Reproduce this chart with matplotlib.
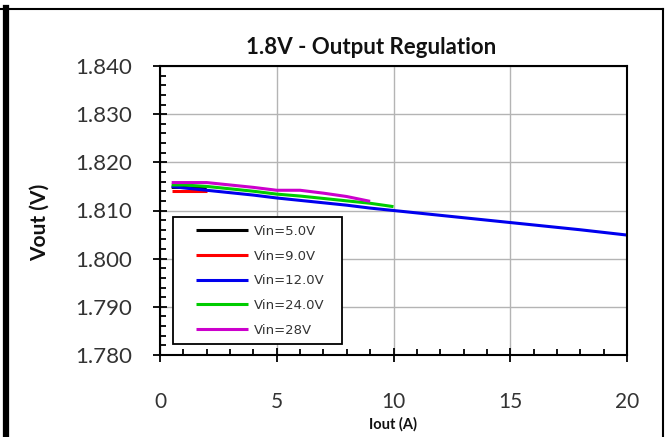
import matplotlib
matplotlib.use("Agg")
import numpy as np
import matplotlib.pyplot as plt
from matplotlib.lines import Line2D
from matplotlib.legend_handler import HandlerLine2D
from matplotlib.ticker import MultipleLocator, FormatStrFormatter

# ---- data ----
iout_5v = [0.5, 1, 2]
vout_5v = [1.8148, 1.8148, 1.8145]

iout_9v = [0.5, 1, 2]
vout_9v = [1.8141, 1.8141, 1.8141]

iout_12v = [0.5, 1, 2, 3, 4, 5, 6, 7, 8, 9, 10, 12, 14, 16, 18, 20]
vout_12v = [1.8150, 1.8147, 1.8142, 1.8137, 1.8132, 1.8126, 1.8121, 1.8116,
            1.8111, 1.8105, 1.8100, 1.8090, 1.8080, 1.8070, 1.8060, 1.8049]

iout_24v = [0.5, 1, 2, 3, 4, 5, 6, 7, 8, 9, 10]
vout_24v = [1.8153, 1.8153, 1.8150, 1.8145, 1.8140, 1.8134, 1.8130, 1.8125,
            1.8120, 1.8115, 1.8108]

iout_28v = [0.5, 1, 2, 3, 4, 5, 6, 7, 8, 9]
vout_28v = [1.8158, 1.8158, 1.8158, 1.8153, 1.8148, 1.8142, 1.8142, 1.8136,
            1.8129, 1.8119]

series = [
    (iout_5v, vout_5v, "#000000", "Vin=5.0V"),
    (iout_9v, vout_9v, "#ff0000", "Vin=9.0V"),
    (iout_12v, vout_12v, "#0000ee", "Vin=12.0V"),
    (iout_24v, vout_24v, "#00cc00", "Vin=24.0V"),
    (iout_28v, vout_28v, "#cc00cc", "Vin=28V"),
]


# legend line starts a bit in from the left edge like in the original
class IndentLine(HandlerLine2D):
    def get_xdata(self, legend, xdescent, ydescent, width, height, fontsize):
        xd = np.array([-xdescent + 0.23 * width, -xdescent + width])
        return xd, xd


W, H = 666, 437
fig = plt.figure(figsize=(W / 100, H / 100), dpi=100)
fig.patch.set_facecolor("white")

# axes placed in pixel coords of the reference
left, right, top, bottom = 160, 627, 66, 355
ax = fig.add_axes([left / W, 1 - bottom / H, (right - left) / W, (bottom - top) / H])

for x, y, c, lab in series:
    ax.plot(x, y, color=c, lw=2.2, label=lab, solid_capstyle="butt")

ax.set_xlim(0, 20)
ax.set_ylim(1.780, 1.840)
ax.xaxis.set_major_locator(MultipleLocator(5))
ax.xaxis.set_minor_locator(MultipleLocator(1))
ax.yaxis.set_major_locator(MultipleLocator(0.01))
ax.yaxis.set_minor_locator(MultipleLocator(0.002))
ax.yaxis.set_major_formatter(FormatStrFormatter("%.3f"))

ax.grid(True, which="major", color="#b4b4b4", lw=1.0)
ax.set_axisbelow(True)
for s in ax.spines.values():
    s.set_linewidth(1.5)
    s.set_color("black")

ax.tick_params(axis="both", which="major", direction="inout", length=10, width=1.3,
               labelcolor="#333333")
ax.tick_params(axis="y", which="major", pad=15, labelsize=16)
ax.tick_params(axis="x", which="major", pad=22, labelsize=15)
ax.tick_params(axis="both", which="minor", direction="in", length=4, width=1.3)
for lbl in ax.get_xticklabels() + ax.get_yticklabels():
    lbl.set_family("Lato")

leg = ax.legend(loc="upper left", bbox_to_anchor=(0.028, 0.0, 0.362, 0.477),
                mode="expand", fontsize=9.5, handlelength=5.1, handletextpad=0.4,
                labelspacing=0.88, borderpad=0.6, fancybox=False, framealpha=1,
                edgecolor="black", borderaxespad=0,
                handler_map={Line2D: IndentLine()})
leg.get_frame().set_linewidth(1.3)
for t in leg.get_texts():
    t.set_family("DejaVu Sans")
    t.set_color("#333333")

fig.text(371 / W, 1 - 47 / H, "1.8V - Output Regulation", ha="center", va="center",
         family="Lato", weight="bold", size=16, color="#111111")
fig.text(393 / W, 1 - 424 / H, "Iout (A)", ha="center", va="center",
         family="Lato", weight="bold", size=10.5, color="#111111")
fig.text(40 / W, 1 - 222 / H, "Vout (V)", ha="center", va="center", rotation=90,
         family="Lato", weight="bold", size=15, color="#111111")

# outer border of the original screenshot
fig.add_artist(Line2D([6 / W, 6 / W], [0, 1 - 8 / H], transform=fig.transFigure,
                      color="black", lw=4.5))
fig.add_artist(Line2D([0, 663 / W], [1 - 8.5 / H, 1 - 8.5 / H], transform=fig.transFigure,
                      color="black", lw=1.5))
fig.add_artist(Line2D([662.5 / W, 662.5 / W], [0, 1 - 8.5 / H], transform=fig.transFigure,
                      color="black", lw=1.5))

fig.savefig("out.png", dpi=100)
